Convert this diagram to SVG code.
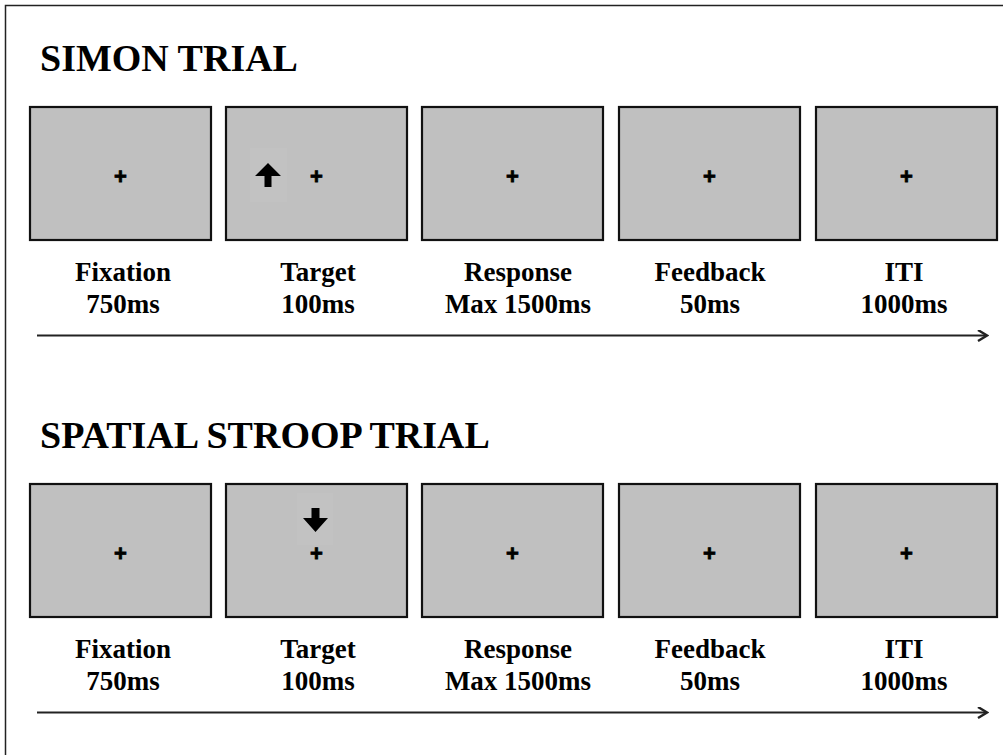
<svg xmlns="http://www.w3.org/2000/svg" width="1003" height="755" viewBox="0 0 1003 755">
<style>
.scr{fill:#c0c0c0;stroke:#111;stroke-width:2.2}
.title{font-family:"Liberation Serif","Times New Roman",serif;font-weight:bold;font-size:38px;fill:#000}
.lbl{font-family:"Liberation Serif","Times New Roman",serif;font-weight:bold;font-size:27px;fill:#000;text-anchor:middle}
.fix{font-family:"Liberation Sans",Arial,sans-serif;font-weight:bold;font-size:22px;fill:#000;stroke:#000;stroke-width:0.8;text-anchor:middle}
.tl{stroke:#222;stroke-width:2.2;fill:none}
.halo{fill:#c2c2c2}
.stim{fill:#000}
</style>
<defs>
<marker id="open" markerWidth="12" markerHeight="14" refX="10" refY="6" orient="auto" markerUnits="userSpaceOnUse">
<path d="M1,0.5 L10,6 L1,11.5" fill="none" stroke="#222" stroke-width="2.4"/>
</marker>
</defs>
<rect x="0" y="0" width="1003" height="755" fill="#fff"/>
<path d="M5.5,755 L5.5,5.5 L1003,5.5" fill="none" stroke="#222" stroke-width="1.5"/>

<text class="title" x="40" y="71">SIMON TRIAL</text>
<text class="title" x="40" y="448">SPATIAL STROOP TRIAL</text>

<g id="simon-fixation">
<rect class="scr" x="30" y="107" width="181" height="133"/>
<text class="fix" x="120.5" y="184">+</text>
<text class="lbl" x="123" y="281">Fixation</text>
<text class="lbl" x="123" y="313">750ms</text>
</g>
<g id="simon-target">
<rect class="scr" x="226" y="107" width="181" height="133"/>
<rect class="halo" x="250" y="148" width="37" height="54"/>
<path class="stim" d="M268,163 L281,176 L271.5,176 L271.5,187 L264.5,187 L264.5,176 L255,176 Z"/>
<text class="fix" x="316.5" y="184">+</text>
<text class="lbl" x="318" y="281">Target</text>
<text class="lbl" x="318" y="313">100ms</text>
</g>
<g id="simon-response">
<rect class="scr" x="422" y="107" width="181" height="133"/>
<text class="fix" x="512.5" y="184">+</text>
<text class="lbl" x="518" y="281">Response</text>
<text class="lbl" x="518" y="313">Max 1500ms</text>
</g>
<g id="simon-feedback">
<rect class="scr" x="619" y="107" width="181" height="133"/>
<text class="fix" x="709.5" y="184">+</text>
<text class="lbl" x="710" y="281">Feedback</text>
<text class="lbl" x="710" y="313">50ms</text>
</g>
<g id="simon-iti">
<rect class="scr" x="816" y="107" width="181" height="133"/>
<text class="fix" x="906.5" y="184">+</text>
<text class="lbl" x="904" y="281">ITI</text>
<text class="lbl" x="904" y="313">1000ms</text>
</g>

<g id="stroop-fixation">
<rect class="scr" x="30" y="484" width="181" height="133"/>
<text class="fix" x="120.5" y="561">+</text>
<text class="lbl" x="123" y="658">Fixation</text>
<text class="lbl" x="123" y="690">750ms</text>
</g>
<g id="stroop-target">
<rect class="scr" x="226" y="484" width="181" height="133"/>
<rect class="halo" x="297" y="493" width="36" height="52"/>
<path class="stim" d="M315.5,532 L328,518 L319.5,518 L319.5,508 L311.5,508 L311.5,518 L303,518 Z"/>
<text class="fix" x="316.5" y="561">+</text>
<text class="lbl" x="318" y="658">Target</text>
<text class="lbl" x="318" y="690">100ms</text>
</g>
<g id="stroop-response">
<rect class="scr" x="422" y="484" width="181" height="133"/>
<text class="fix" x="512.5" y="561">+</text>
<text class="lbl" x="518" y="658">Response</text>
<text class="lbl" x="518" y="690">Max 1500ms</text>
</g>
<g id="stroop-feedback">
<rect class="scr" x="619" y="484" width="181" height="133"/>
<text class="fix" x="709.5" y="561">+</text>
<text class="lbl" x="710" y="658">Feedback</text>
<text class="lbl" x="710" y="690">50ms</text>
</g>
<g id="stroop-iti">
<rect class="scr" x="816" y="484" width="181" height="133"/>
<text class="fix" x="906.5" y="561">+</text>
<text class="lbl" x="904" y="658">ITI</text>
<text class="lbl" x="904" y="690">1000ms</text>
</g>

<g id="connectors">
<line class="tl" x1="37" y1="335.5" x2="987" y2="335.5" marker-end="url(#open)"/>
<line class="tl" x1="37" y1="712.5" x2="987" y2="712.5" marker-end="url(#open)"/>
</g>
</svg>
